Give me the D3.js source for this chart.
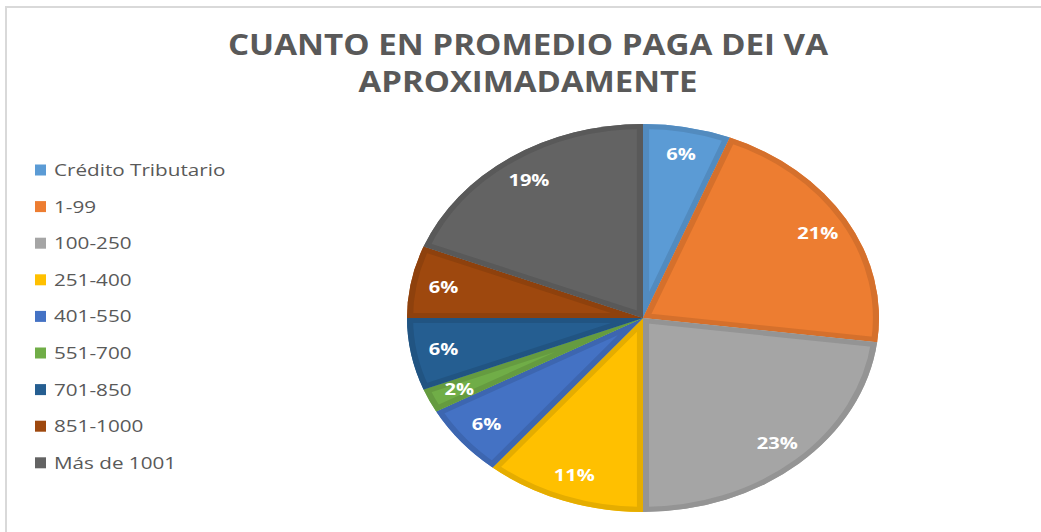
<!DOCTYPE html>
<html>
<head>
<meta charset="utf-8">
<script src="https://cdn.jsdelivr.net/npm/d3@7"></script>
<style>
  body { margin: 0; background: #fff; }
  svg { display: block; }
</style>
</head>
<body>
<div id="chart"></div>
<script>
// shares
const categories = ["Crédito Tributario", "1-99", "100-250", "251-400", "401-550", "551-700", "701-850", "851-1000", "Más de 1001"];
const values = [0.06, 0.21, 0.23, 0.11, 0.06, 0.02, 0.06, 0.06, 0.19];
const colors = ["#5B9BD5", "#ED7D31", "#A5A5A5", "#FFC000", "#4472C4", "#70AD47", "#255E91", "#9E480E", "#636363"];
const titleLines = ["CUANTO EN PROMEDIO PAGA DEI VA", "APROXIMADAMENTE"];

const width = 1041, height = 532;
const cx = 643, cy = 318, ry = 194, rx = 236;
const sx = rx / ry; // the whole picture is stretched sideways

const svg = d3.select("#chart").append("svg")
  .attr("width", width)
  .attr("height", height);

// chart area border
svg.append("rect")
  .attr("x", 6).attr("y", 7)
  .attr("width", width + 10).attr("height", height + 10)
  .attr("fill", "none")
  .attr("stroke", "#d9d9d9")
  .attr("stroke-width", 2);

// title
svg.selectAll("text.title")
  .data(titleLines)
  .enter()
  .append("text")
  .attr("class", "title")
  .attr("x", 528)
  .attr("y", (d, i) => 55 + i * 37)
  .attr("text-anchor", "middle")
  .attr("font-family", "'Open Sans', sans-serif")
  .attr("font-weight", "bold")
  .attr("font-size", "29px")
  .attr("fill", "#595959")
  .attr("textLength", (d, i) => i === 0 ? 600 : 339)
  .attr("lengthAdjust", "spacingAndGlyphs")
  .text(d => d);

// pie
const total = d3.sum(values);
const pie = d3.pie().sort(null).value(d => d)(values);
const arc = d3.arc().innerRadius(0).outerRadius(ry);
const labelArc = d3.arc().innerRadius(ry * 0.86).outerRadius(ry * 0.86);

const g = svg.append("g")
  .attr("transform", `translate(${cx},${cy}) scale(${sx},1)`);

const defs = svg.append("defs");
pie.forEach((d, i) => {
  defs.append("clipPath").attr("id", "clip" + i)
    .append("path").attr("d", arc(d));
});

const slices = g.selectAll("g.slice")
  .data(pie)
  .enter()
  .append("g")
  .attr("class", "slice");

slices.append("path")
  .attr("d", arc)
  .attr("fill", (d, i) => colors[i]);

// darker inside border like the original
slices.append("path")
  .attr("d", arc)
  .attr("fill", "none")
  .attr("clip-path", (d, i) => `url(#clip${i})`)
  .attr("stroke", (d, i) => d3.color(colors[i]).darker(0.3))
  .attr("stroke-width", 10)
  .attr("stroke-linejoin", "miter");

// labels
svg.selectAll("text.lbl")
  .data(pie)
  .enter()
  .append("text")
  .attr("class", "lbl")
  .attr("transform", d => {
    const c = labelArc.centroid(d);
    return `translate(${cx + c[0] * sx},${cy + c[1]}) scale(${sx},1)`;
  })
  .attr("dy", "0.35em")
  .attr("text-anchor", "middle")
  .attr("font-family", "'Open Sans', sans-serif")
  .attr("font-weight", "bold")
  .attr("font-size", "16.5px")
  .attr("fill", "#fff")
  .text(d => Math.round(d.data / total * 100) + "%");

// legend
const legend = svg.selectAll("g.legend")
  .data(categories)
  .enter()
  .append("g")
  .attr("class", "legend")
  .attr("transform", (d, i) => `translate(35,${170 + i * 36.6})`);

legend.append("rect")
  .attr("x", 0).attr("y", -5.5)
  .attr("width", 11).attr("height", 11)
  .attr("fill", (d, i) => colors[i]);

legend.append("text")
  .attr("transform", `translate(19,0) scale(${sx},1)`)
  .attr("dy", "0.35em")
  .attr("font-family", "'Open Sans', sans-serif")
  .attr("font-size", "17px")
  .attr("fill", "#595959")
  .text(d => d);
</script>
</body>
</html>
